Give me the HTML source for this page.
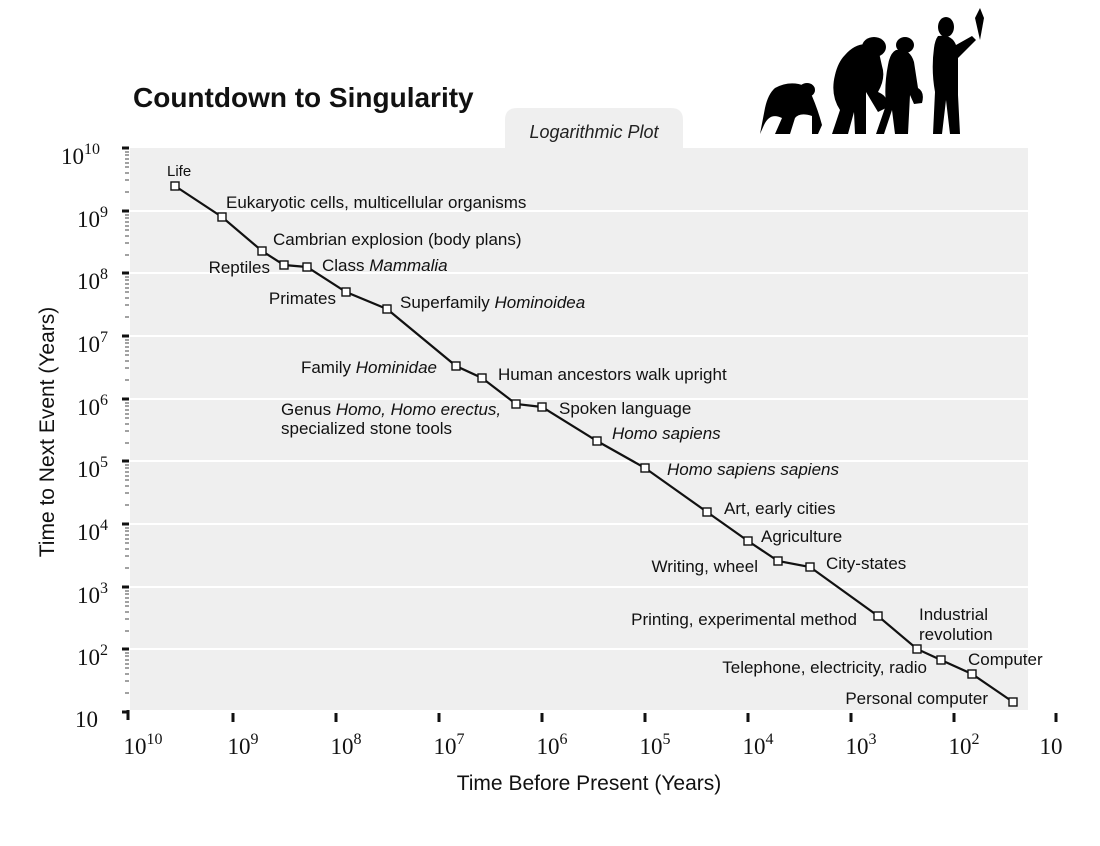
<!DOCTYPE html>
<html><head><meta charset="utf-8"><style>
body{margin:0;background:#fff;}
svg{display:block;font-family:"Liberation Sans",sans-serif;}
.s{font-family:"Liberation Serif",serif;font-size:23px;}
.l{font-size:17px;fill:#111;}
</style></head><body>
<svg width="1100" height="846" viewBox="0 0 1100 846">
<text x="133" y="107" font-size="28" font-weight="bold" fill="#111">Countdown to Singularity</text>
<path d="M505,148 V120 Q505,108 517,108 H671 Q683,108 683,120 V148 Z" fill="#efefef"/>
<text x="594" y="138" font-size="18" font-style="italic" text-anchor="middle" fill="#222">Logarithmic Plot</text>
<rect x="130" y="148" width="898" height="562" fill="#efefef"/>
<g stroke="#fff" stroke-width="2">
<line x1="130" x2="1028" y1="211" y2="211"/><line x1="130" x2="1028" y1="273" y2="273"/>
<line x1="130" x2="1028" y1="336" y2="336"/><line x1="130" x2="1028" y1="399" y2="399"/>
<line x1="130" x2="1028" y1="461" y2="461"/><line x1="130" x2="1028" y1="524" y2="524"/>
<line x1="130" x2="1028" y1="587" y2="587"/><line x1="130" x2="1028" y1="649" y2="649"/>
</g>
<g stroke="#111" stroke-width="3">
<line x1="122" x2="129" y1="148" y2="148"/><line x1="122" x2="129" y1="211" y2="211"/>
<line x1="122" x2="129" y1="273" y2="273"/><line x1="122" x2="129" y1="336" y2="336"/>
<line x1="122" x2="129" y1="399" y2="399"/><line x1="122" x2="129" y1="461" y2="461"/>
<line x1="122" x2="129" y1="524" y2="524"/><line x1="122" x2="129" y1="587" y2="587"/>
<line x1="122" x2="129" y1="649" y2="649"/><line x1="122" x2="129" y1="712" y2="712"/>
<line x1="128" x2="128" y1="710" y2="720"/>
</g>
<g id="mt" stroke="#444" stroke-width="1">
<line x1="125" x2="129" y1="152" y2="152"/><line x1="125" x2="129" y1="155" y2="155"/><line x1="125" x2="129" y1="159" y2="159"/><line x1="125" x2="129" y1="163" y2="163"/><line x1="125" x2="129" y1="167" y2="167"/><line x1="125" x2="129" y1="173" y2="173"/><line x1="125" x2="129" y1="180" y2="180"/><line x1="125" x2="129" y1="192" y2="192"/>
</g>
<use href="#mt" y="63"/><use href="#mt" y="125"/><use href="#mt" y="188"/><use href="#mt" y="251"/><use href="#mt" y="313"/><use href="#mt" y="376"/><use href="#mt" y="439"/><use href="#mt" y="501"/>
<g class="s" text-anchor="end" fill="#111">
<text x="100" y="164">10<tspan dy="-10" font-size="16">10</tspan></text>
<text x="108" y="227">10<tspan dy="-10" font-size="16">9</tspan></text>
<text x="108" y="289">10<tspan dy="-10" font-size="16">8</tspan></text>
<text x="108" y="352">10<tspan dy="-10" font-size="16">7</tspan></text>
<text x="108" y="415">10<tspan dy="-10" font-size="16">6</tspan></text>
<text x="108" y="477">10<tspan dy="-10" font-size="16">5</tspan></text>
<text x="108" y="540">10<tspan dy="-10" font-size="16">4</tspan></text>
<text x="108" y="603">10<tspan dy="-10" font-size="16">3</tspan></text>
<text x="108" y="665">10<tspan dy="-10" font-size="16">2</tspan></text>
<text x="98" y="727">10</text>
</g>
<g stroke="#111" stroke-width="3">
<line x1="233" x2="233" y1="713" y2="722"/><line x1="336" x2="336" y1="713" y2="722"/><line x1="439" x2="439" y1="713" y2="722"/><line x1="542" x2="542" y1="713" y2="722"/><line x1="645" x2="645" y1="713" y2="722"/><line x1="748" x2="748" y1="713" y2="722"/><line x1="851" x2="851" y1="713" y2="722"/><line x1="954" x2="954" y1="713" y2="722"/><line x1="1056" x2="1056" y1="713" y2="722"/>
</g>
<g class="s" text-anchor="middle" fill="#111">
<text x="143" y="754">10<tspan dy="-10" font-size="16">10</tspan></text>
<text x="243" y="754">10<tspan dy="-10" font-size="16">9</tspan></text>
<text x="346" y="754">10<tspan dy="-10" font-size="16">8</tspan></text>
<text x="449" y="754">10<tspan dy="-10" font-size="16">7</tspan></text>
<text x="552" y="754">10<tspan dy="-10" font-size="16">6</tspan></text>
<text x="655" y="754">10<tspan dy="-10" font-size="16">5</tspan></text>
<text x="758" y="754">10<tspan dy="-10" font-size="16">4</tspan></text>
<text x="861" y="754">10<tspan dy="-10" font-size="16">3</tspan></text>
<text x="964" y="754">10<tspan dy="-10" font-size="16">2</tspan></text>
<text x="1051" y="754">10</text>
</g>
<text x="589" y="790" font-size="21" text-anchor="middle" fill="#111">Time Before Present (Years)</text>
<text transform="translate(54,432) rotate(-90)" font-size="21" text-anchor="middle" fill="#111">Time to Next Event (Years)</text>
<polyline fill="none" stroke="#111" stroke-width="2.2" points="175,186 222,217 262,251 284,265 307,267 346,292 387,309 456,366 482,378 516,404 542,407 597,441 645,468 707,512 748,541 778,561 810,567 878,616 917,649 941,660 972,674 1013,702"/>
<g fill="#fff" stroke="#111" stroke-width="1.4">
<rect x="171" y="182" width="8" height="8"/><rect x="218" y="213" width="8" height="8"/><rect x="258" y="247" width="8" height="8"/><rect x="280" y="261" width="8" height="8"/><rect x="303" y="263" width="8" height="8"/><rect x="342" y="288" width="8" height="8"/><rect x="383" y="305" width="8" height="8"/><rect x="452" y="362" width="8" height="8"/><rect x="478" y="374" width="8" height="8"/><rect x="512" y="400" width="8" height="8"/><rect x="538" y="403" width="8" height="8"/><rect x="593" y="437" width="8" height="8"/><rect x="641" y="464" width="8" height="8"/><rect x="703" y="508" width="8" height="8"/><rect x="744" y="537" width="8" height="8"/><rect x="774" y="557" width="8" height="8"/><rect x="806" y="563" width="8" height="8"/><rect x="874" y="612" width="8" height="8"/><rect x="913" y="645" width="8" height="8"/><rect x="937" y="656" width="8" height="8"/><rect x="968" y="670" width="8" height="8"/><rect x="1009" y="698" width="8" height="8"/>
</g>
<g class="l">
<text x="167" y="176" font-size="15">Life</text>
<text x="226" y="208">Eukaryotic cells, multicellular organisms</text>
<text x="273" y="245">Cambrian explosion (body plans)</text>
<text x="270" y="273" text-anchor="end">Reptiles</text>
<text x="322" y="271">Class <tspan font-style="italic">Mammalia</tspan></text>
<text x="336" y="304" text-anchor="end">Primates</text>
<text x="400" y="308">Superfamily <tspan font-style="italic">Hominoidea</tspan></text>
<text x="437" y="373" text-anchor="end">Family <tspan font-style="italic">Hominidae</tspan></text>
<text x="498" y="380">Human ancestors walk upright</text>
<text x="281" y="415">Genus <tspan font-style="italic">Homo, Homo erectus,</tspan></text>
<text x="281" y="434">specialized stone tools</text>
<text x="559" y="414">Spoken language</text>
<text x="612" y="439" font-style="italic">Homo sapiens</text>
<text x="667" y="475" font-style="italic">Homo sapiens sapiens</text>
<text x="724" y="514">Art, early cities</text>
<text x="761" y="542">Agriculture</text>
<text x="758" y="572" text-anchor="end">Writing, wheel</text>
<text x="826" y="569">City-states</text>
<text x="857" y="625" text-anchor="end">Printing, experimental method</text>
<text x="919" y="620">Industrial</text>
<text x="919" y="640">revolution</text>
<text x="927" y="673" text-anchor="end">Telephone, electricity, radio</text>
<text x="968" y="665">Computer</text>
<text x="988" y="704" text-anchor="end">Personal computer</text>
</g>
<g fill="#000">
<ellipse cx="807" cy="90" rx="8" ry="7"/><path d="M775,88 Q790,80 805,86 L812,96 Q818,110 822,125 L818,134 L812,134 L812,116 Q800,112 795,118 L790,134 L775,134 L782,118 Q770,112 764,125 L760,134 L765,108 Q768,94 775,88Z"/>
<ellipse cx="874" cy="47" rx="12" ry="10"/><path d="M845,55 Q860,38 878,48 L882,66 Q886,78 878,92 Q890,97 886,108 L878,112 L866,92 L866,134 L855,134 L854,112 L848,134 L832,134 L840,110 Q830,95 835,75 Q838,62 845,55Z"/>
<ellipse cx="905" cy="45" rx="9" ry="8"/><path d="M896,50 Q910,48 914,62 L918,88 Q925,92 922,103 L914,104 L910,95 L908,134 L895,134 L892,110 L884,134 L876,134 L886,105 Q884,85 888,65 Q890,53 896,50Z"/>
<ellipse cx="946" cy="27" rx="8" ry="10"/><path d="M938,36 Q952,34 956,45 L972,36 L976,40 L958,58 L958,95 L960,134 L950,134 L946,100 L942,134 L933,134 L935,92 Q931,70 934,48 Q935,40 938,36Z"/>
<path d="M975,18 L980,8 L984,18 L980,40 Z"/>
</g>
</svg>
</body></html>
